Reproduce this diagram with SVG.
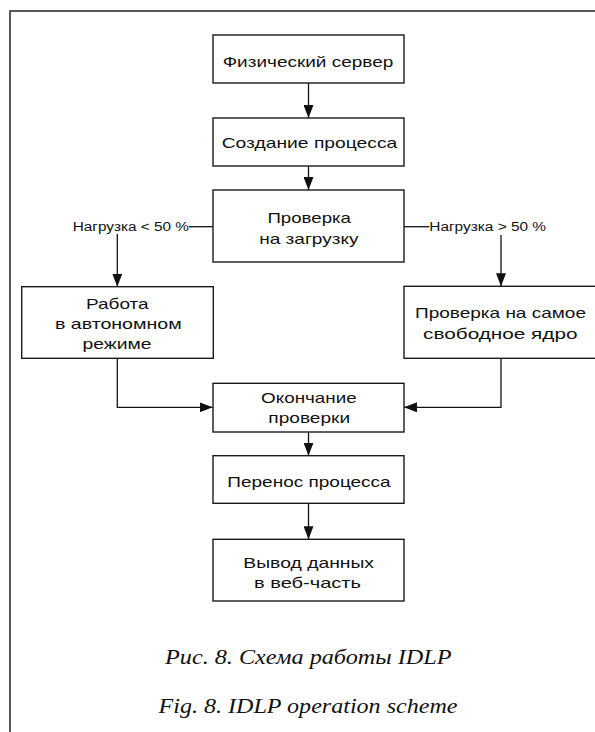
<svg xmlns="http://www.w3.org/2000/svg" width="595" height="732" viewBox="0 0 595 732">
<style>
.box{fill:#fff;stroke:#1a1a1a;stroke-width:1.4}
.t{font-family:"Liberation Sans",Arial,sans-serif;font-size:15px;fill:#111;text-anchor:middle}
.lbl{font-family:"Liberation Sans",Arial,sans-serif;font-size:12.5px;fill:#111}
.cap{font-family:"Liberation Serif","Times New Roman",serif;font-style:italic;font-size:21px;fill:#111;text-anchor:middle}
.ln{fill:none;stroke:#111;stroke-width:1.3}
.frame{fill:none;stroke:#222;stroke-width:1.5}
</style>
<defs>
<marker id="ah" viewBox="0 0 13 10" refX="13" refY="5" markerWidth="13" markerHeight="10" markerUnits="userSpaceOnUse" orient="auto">
<path d="M0,0 L13,5 L0,10 z" fill="#111"/>
</marker>
</defs>
<rect width="595" height="732" fill="#fff"/>
<path class="frame" d="M10,732 V11 H595"/>
<g id="connectors">
<path class="ln" d="M308.5,83 V118" marker-end="url(#ah)"/>
<path class="ln" d="M308.5,166 V190" marker-end="url(#ah)"/>
<path class="ln" d="M189,226.7 H213"/>
<path class="ln" d="M117.3,234 V286.7" marker-end="url(#ah)"/>
<path class="ln" d="M404,226.7 H429.3"/>
<path class="ln" d="M501,235 V286.3" marker-end="url(#ah)"/>
<path class="ln" d="M117.3,358.3 V407.3 H212.7" marker-end="url(#ah)"/>
<path class="ln" d="M501,358.3 V407.3 H404" marker-end="url(#ah)"/>
<path class="ln" d="M308.5,432 V455.7" marker-end="url(#ah)"/>
<path class="ln" d="M308.5,503.3 V539.3" marker-end="url(#ah)"/>
<text class="lbl" x="72.7" y="230.7" textLength="116.3" lengthAdjust="spacingAndGlyphs">Нагрузка &lt; 50 %</text>
<text class="lbl" x="429.3" y="230.7" textLength="116.7" lengthAdjust="spacingAndGlyphs">Нагрузка &gt; 50 %</text>
</g>
<g id="n1">
<rect class="box" x="213" y="35" width="191" height="48"/>
<text class="t" x="308" y="66.7" textLength="170.6" lengthAdjust="spacingAndGlyphs">Физический сервер</text>
</g>
<g id="n2">
<rect class="box" x="213" y="118" width="191" height="48"/>
<text class="t" x="309.5" y="148" textLength="175.6" lengthAdjust="spacingAndGlyphs">Создание процесса</text>
</g>
<g id="n3">
<rect class="box" x="213" y="190" width="191" height="72"/>
<text class="t" x="309.2" y="223.3" textLength="83.5" lengthAdjust="spacingAndGlyphs">Проверка</text>
<text class="t" x="308.9" y="244" textLength="99.4" lengthAdjust="spacingAndGlyphs">на загрузку</text>
</g>
<g id="n4">
<rect class="box" x="21.7" y="286.7" width="191.6" height="71.6"/>
<text class="t" x="117.3" y="309.3" textLength="62.7" lengthAdjust="spacingAndGlyphs">Работа</text>
<text class="t" x="118.3" y="329.3" textLength="126.7" lengthAdjust="spacingAndGlyphs">в автономном</text>
<text class="t" x="117" y="349" textLength="69" lengthAdjust="spacingAndGlyphs">режиме</text>
</g>
<g id="n5">
<rect class="box" x="404" y="286.3" width="194" height="72"/>
<text class="t" x="500.5" y="318" textLength="171" lengthAdjust="spacingAndGlyphs">Проверка на самое</text>
<text class="t" x="500.3" y="339" textLength="154.5" lengthAdjust="spacingAndGlyphs">свободное ядро</text>
</g>
<g id="n6">
<rect class="box" x="213" y="383.3" width="191" height="48.7"/>
<text class="t" x="308.9" y="403.3" textLength="95.7" lengthAdjust="spacingAndGlyphs">Окончание</text>
<text class="t" x="309.2" y="423.3" textLength="81.7" lengthAdjust="spacingAndGlyphs">проверки</text>
</g>
<g id="n7">
<rect class="box" x="213" y="455.7" width="191" height="47.6"/>
<text class="t" x="309" y="486.7" textLength="163.4" lengthAdjust="spacingAndGlyphs">Перенос процесса</text>
</g>
<g id="n8">
<rect class="box" x="213" y="539.3" width="191" height="61.7"/>
<text class="t" x="308.7" y="568.3" textLength="130.7" lengthAdjust="spacingAndGlyphs">Вывод данных</text>
<text class="t" x="307.5" y="588.3" textLength="107" lengthAdjust="spacingAndGlyphs">в веб-часть</text>
</g>
<g id="caption">
<text class="cap" x="308.3" y="664" textLength="286.6" lengthAdjust="spacingAndGlyphs">Рис. 8. Схема работы IDLP</text>
<text class="cap" x="308" y="713" textLength="299" lengthAdjust="spacingAndGlyphs">Fig. 8. IDLP operation scheme</text>
</g>
</svg>
